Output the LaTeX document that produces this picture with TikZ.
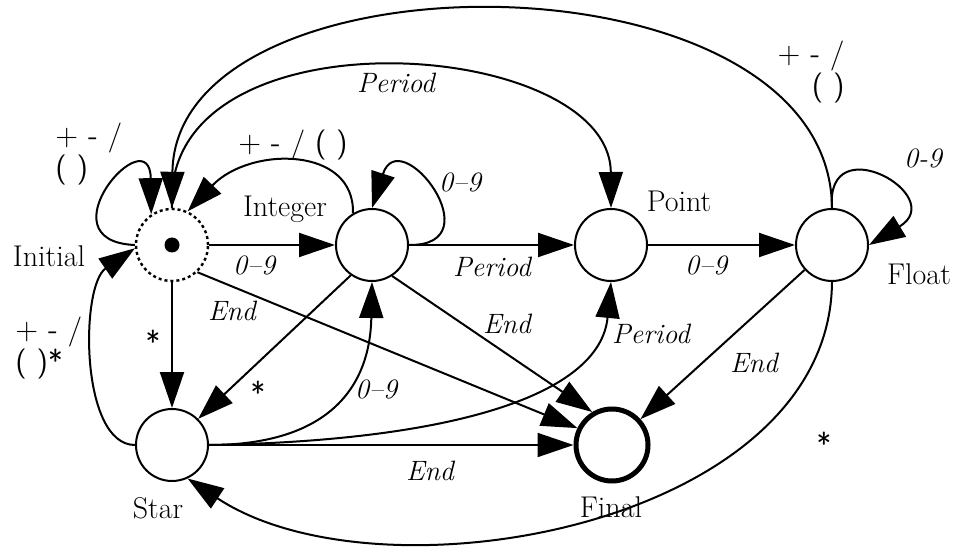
\documentclass[tikz,border=0pt]{standalone}
\usepackage{tikz}
\usetikzlibrary{arrows.meta}

\begin{document}
\begin{tikzpicture}[x=0.5pt, y=0.5pt, >={Triangle[length=18pt, width=12pt]},
    every node/.style={font=\fontsize{15}{18}\selectfont, inner sep=0pt},
    st/.style={draw, circle, line width=1pt, minimum size=36pt},
    tr/.style={->, line width=1pt},
    lbl/.style={font=\fontsize{14}{17}\selectfont\itshape, anchor=base},
    op/.style={font=\fontsize{15}{14}\selectfont\sffamily, align=left}]
      \useasboundingbox (0,0) rectangle (956,546);
      % states
      \node[st, line width=1.2pt, dash pattern=on 1.5pt off 1.5pt] (init) at (172,301) {};
      \node[st] (integ) at (372,301) {};
      \node[st] (point) at (611,301) {};
      \node[st] (float) at (832,301) {};
      \node[st] (star) at (172,101) {};
      \node[st, line width=2.5pt] (final) at (612,101) {};
      \fill (init.center) circle (3.75pt);
      \node[anchor=base] (nInit) at (49,279) {Initial};
      \node[anchor=base] (nInteg) at (285,329) {Integer};
      \node[anchor=base] (nPoint) at (679,334) {Point};
      \node[anchor=base] (nFloat) at (919,261) {Float};
      \node[anchor=base] (nStar) at (158,28) {Star};
      \node[anchor=base] (nFinal) at (611,29) {Final};
      % transitions
      \draw[tr] (init.180) .. controls (40,305) and (150,430) .. (init.124);
      \draw[tr] (float.north) .. controls (830,600) and (175,600) .. (init.north);
      \draw[tr] (init.north) .. controls (160,540) and (610,510) .. (point.north);
      \draw[tr] (integ.121) .. controls (355,400) and (250,400) .. (init.65);
      \draw[tr] (integ.east) .. controls (495,300) and (400,425) .. (integ.north);
      \draw[tr] (init) -- (integ);
      \draw[tr] (integ) -- (point);
      \draw[tr] (point) -- (float);
      \draw[tr] (float.north) .. controls (825,420) and (950,350) .. (float.east);
      \draw[tr] (init) -- (star);
      \draw[tr] (init.-47) -- (final.154);
      \draw[tr] (integ.-125) -- (star.45);
      \draw[tr] (star.east) .. controls (330,101) and (370,160) .. (integ.south);
      \draw[tr] (integ.-57) -- (final.121);
      \draw[tr] (star.east) .. controls (450,105) and (600,150) .. (point.south);
      \draw[tr] (star) -- (final);
      \draw[tr] (float) -- (final);
      \draw[tr] (float.south) .. controls (830,20) and (380,-60) .. (star.-65);
      \draw[tr] (star.west) .. controls (80,101) and (80,260) .. (init.185);
      % labels
      \node[lbl] (lInitInteg) at (254,271) {0--9};
      \node[lbl] (lIntegPoint) at (492,269) {Period};
      \node[lbl] (lPointFloat) at (706,271) {0--9};
      \node[lbl] (lIntegLoop) at (460,354) {0--9};
      \node[lbl] (lFloatLoop) at (923,378) {0-9};
      \node[lbl] (lInitPoint) at (396,453) {Period};
      \node[lbl] (lInitFinal) at (232,226) {End};
      \node[lbl] (lIntegFinal) at (507,213) {End};
      \node[lbl] (lStarPoint) at (651,203) {Period};
      \node[lbl] (lStarInteg) at (376,148) {0--9};
      \node[lbl] (lFloatFinal) at (754,174) {End};
      \node[lbl] (lStarFinal) at (430,66) {End};
      \node[op, anchor=base] (lInitStar) at (153,193) {*};
      \node[op, anchor=base] (lIntegStar) at (258,143) {*};
      \node[op, anchor=base] (lFloatStar) at (824,92) {*};
      \node[op, anchor=west] (lInitLoop) at (55,392) {+ - /\\( )};
      \node[op] (lIntegInit) at (293,401) {+ - / ( )};
      \node[op, align=right, anchor=east] (lFloatInit) at (845,474) {+ - /\\( )};
      \node[op, anchor=west] (lStarInit) at (15,198) {+ - /\\( )*};
\end{tikzpicture}
\end{document}
